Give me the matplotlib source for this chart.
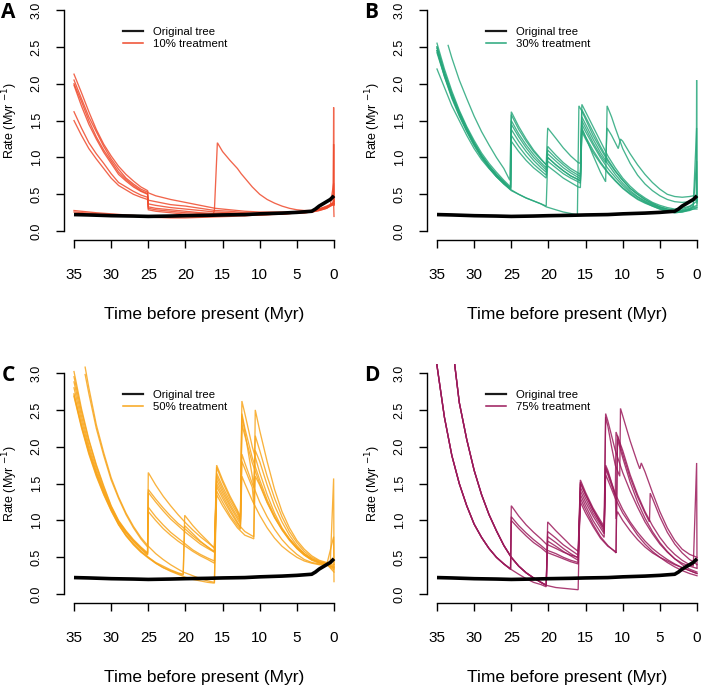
import matplotlib
matplotlib.use("Agg")
import matplotlib.pyplot as plt
from matplotlib.lines import Line2D

plt.rcParams['font.family'] = ['Liberation Sans', 'DejaVu Sans']

# original tree (same in every panel)
orig_t = [35, 33, 30, 27, 25, 22, 20, 17, 15, 12, 10, 7, 5, 3, 2.5, 2, 1.5, 1, 0.5, 0]
orig_r = [0.225, 0.22, 0.21, 0.205, 0.2, 0.205, 0.21, 0.215, 0.22, 0.225, 0.235, 0.245,
          0.255, 0.27, 0.3, 0.34, 0.37, 0.4, 0.43, 0.48]

x_ticks = [35, 30, 25, 20, 15, 10, 5, 0]
y_ticks = [0.0, 0.5, 1.0, 1.5, 2.0, 2.5, 3.0]

# ---- panel A : 10% treatment ----
a_lines = [
    [(35, 2.13), (34, 1.88), (33, 1.62), (32, 1.38), (31, 1.18), (30, 1.02), (29, 0.88), (28, 0.77),
     (27, 0.68), (26, 0.6), (25.1, 0.55), (25, 0.52), (24, 0.48), (22, 0.43), (20, 0.39), (18, 0.35),
     (16, 0.31), (14, 0.29), (12, 0.27), (10, 0.26), (8, 0.26), (6, 0.26), (4, 0.27), (3, 0.28),
     (2, 0.3), (1, 0.34), (0.5, 0.36), (0.1, 0.38), (0.05, 1.68), (0, 0.4)],
    [(35, 2.05), (34, 1.8), (33, 1.55), (32, 1.35), (31, 1.15), (30, 0.98), (29, 0.84), (28, 0.72),
     (27, 0.64), (26, 0.57), (25.1, 0.53), (25, 0.42), (24, 0.4), (22, 0.36), (20, 0.34), (18, 0.31),
     (16, 0.28), (14, 0.27), (12, 0.25), (10, 0.24), (8, 0.24), (6, 0.25), (4, 0.26), (3, 0.27),
     (2, 0.3), (1, 0.33), (0.5, 0.35), (0.1, 0.37), (0.05, 1.18), (0, 0.37)],
    [(35, 2.0), (34, 1.76), (33, 1.5), (32, 1.28), (31, 1.1), (30, 0.95), (29, 0.8), (28, 0.7),
     (27, 0.62), (26, 0.55), (25.1, 0.51), (25, 0.37), (24, 0.35), (22, 0.32), (20, 0.3), (18, 0.28),
     (16, 0.26), (14, 0.25), (12, 0.24), (10, 0.23), (8, 0.24), (6, 0.25), (4, 0.26), (3, 0.27),
     (2, 0.29), (1, 0.32), (0.5, 0.35), (0.05, 0.65), (0, 0.35)],
    [(35, 1.98), (34, 1.7), (33, 1.45), (32, 1.25), (31, 1.07), (30, 0.92), (29, 0.77), (28, 0.68),
     (27, 0.6), (26, 0.54), (25.1, 0.5), (25, 0.33), (24, 0.31), (22, 0.29), (20, 0.27), (18, 0.25),
     (16, 0.24), (14, 0.24), (12, 0.23), (10, 0.23), (8, 0.23), (6, 0.24), (4, 0.25), (3, 0.26),
     (2, 0.29), (1, 0.32), (0.5, 0.36), (0.05, 0.38), (0, 0.2)],
    [(35, 1.62), (34, 1.4), (33, 1.2), (32, 1.05), (31, 0.92), (30, 0.78), (29, 0.66), (28, 0.6),
     (27, 0.54), (26, 0.49), (25.1, 0.46), (25, 0.31), (24, 0.29), (22, 0.27), (20, 0.25), (18, 0.24),
     (16, 0.23), (14, 0.23), (12, 0.22), (10, 0.22), (8, 0.23), (6, 0.24), (4, 0.25), (3, 0.26),
     (2, 0.28), (1, 0.31), (0.5, 0.34), (0, 0.36)],
    [(35, 1.5), (34, 1.3), (33, 1.12), (32, 0.98), (31, 0.85), (30, 0.72), (29, 0.62), (28, 0.56),
     (27, 0.5), (26, 0.46), (25.1, 0.43), (25, 0.29), (24, 0.27), (22, 0.25), (20, 0.23), (18, 0.22),
     (16, 0.22), (14, 0.22), (12, 0.21), (10, 0.22), (8, 0.23), (6, 0.24), (4, 0.25), (3, 0.26),
     (2, 0.28), (1, 0.31), (0.5, 0.34), (0, 0.37)],
    [(35, 0.28), (32, 0.25), (28, 0.22), (25, 0.2), (22, 0.19), (19, 0.2), (16.3, 0.22), (16.1, 0.28),
     (15.7, 1.2), (15, 1.08), (14, 0.96), (13, 0.85), (12.5, 0.78), (12, 0.72), (11, 0.6), (10, 0.5),
     (9, 0.43), (8, 0.38), (7, 0.34), (6, 0.31), (5, 0.29), (4, 0.28), (3, 0.28), (2, 0.3), (1, 0.33),
     (0.5, 0.36), (0, 0.4)],
    [(35, 0.26), (30, 0.22), (25, 0.19), (22, 0.18), (20, 0.18), (17, 0.19), (14, 0.2), (10, 0.22),
     (7, 0.23), (5, 0.25), (3, 0.27), (2, 0.29), (1, 0.32), (0.5, 0.35), (0, 0.38)],
]

# ---- panel B : 30% treatment ----
b_lines = [
    [(35, 2.55), (34, 2.2), (33, 1.9), (32, 1.64), (31, 1.42), (30, 1.23), (29, 1.06), (28, 0.92),
     (27, 0.8), (26, 0.69), (25.1, 0.6), (25, 1.62), (24, 1.42), (23, 1.25), (22, 1.1), (21, 0.98),
     (20.3, 0.9), (20.1, 1.4), (19, 1.26), (18, 1.13), (17, 1.02), (16, 0.93), (15.7, 0.92),
     (15.5, 1.72), (15, 1.62), (14, 1.42), (13, 1.22), (12, 1.02), (11, 0.86), (10, 0.72), (9, 0.61),
     (8, 0.52), (7, 0.45), (6, 0.39), (5, 0.35), (4, 0.32), (3, 0.3), (2, 0.31), (1, 0.34),
     (0.5, 0.37), (0.1, 0.4), (0.05, 2.05), (0, 0.4)],
    [(35, 2.5), (34, 2.16), (33, 1.87), (32, 1.62), (31, 1.4), (30, 1.2), (29, 1.03), (28, 0.89),
     (27, 0.77), (26, 0.67), (25.1, 0.58), (25, 1.5), (24, 1.32), (23, 1.17), (22, 1.04), (21, 0.93),
     (20.3, 0.86), (20.1, 1.15), (19, 1.03), (18, 0.93), (17, 0.85), (16, 0.79), (15.7, 0.77),
     (15.5, 1.65), (15, 1.55), (14, 1.35), (13, 1.15), (12, 0.97), (11, 0.82), (10, 0.69), (9, 0.58),
     (8, 0.5), (7, 0.43), (6, 0.37), (5, 0.33), (4, 0.3), (3, 0.28), (2, 0.29), (1, 0.33),
     (0.5, 0.36), (0.05, 1.4), (0, 0.38)],
    [(35, 2.45), (34, 2.12), (33, 1.84), (32, 1.6), (31, 1.38), (30, 1.19), (29, 1.02), (28, 0.88),
     (27, 0.76), (26, 0.66), (25.1, 0.57), (25, 1.45), (24, 1.28), (23, 1.13), (22, 1.0), (21, 0.9),
     (20.3, 0.83), (20.1, 1.1), (19, 0.99), (18, 0.9), (17, 0.82), (16, 0.76), (15.7, 0.74),
     (15.5, 1.55), (15, 1.45), (14, 1.25), (13, 1.07), (12, 0.91), (11, 0.77), (10, 0.65), (9, 0.55),
     (8, 0.47), (7, 0.41), (6, 0.36), (5, 0.32), (4, 0.29), (3, 0.27), (2, 0.28), (1, 0.31),
     (0.5, 0.34), (0.05, 0.95), (0, 0.36)],
    [(35, 2.48), (34, 2.14), (33, 1.85), (32, 1.6), (31, 1.39), (30, 1.2), (29, 1.03), (28, 0.89),
     (27, 0.77), (26, 0.67), (25.1, 0.58), (25, 1.38), (24, 1.22), (23, 1.08), (22, 0.96), (21, 0.86),
     (20.3, 0.8), (20.1, 1.05), (19, 0.95), (18, 0.86), (17, 0.79), (16, 0.73), (15.7, 0.71),
     (15.5, 1.5), (15, 1.4), (14, 1.2), (13, 1.03), (12.3, 0.93), (12.1, 1.4), (11.5, 1.3), (11, 1.2),
     (10.6, 1.12), (10.3, 1.25), (10, 1.22), (9, 1.05), (8, 0.9), (7, 0.77), (6, 0.66), (5, 0.57),
     (4, 0.5), (3, 0.47), (2, 0.46), (1, 0.47), (0.5, 0.48), (0, 0.45)],
    [(35, 2.42), (34, 2.1), (33, 1.82), (32, 1.58), (31, 1.37), (30, 1.18), (29, 1.02), (28, 0.88),
     (27, 0.76), (26, 0.66), (25.1, 0.57), (25, 1.3), (24, 1.15), (23, 1.02), (22, 0.91), (21, 0.82),
     (20.3, 0.76), (20.1, 1.0), (19, 0.9), (18, 0.82), (17, 0.75), (16, 0.7), (15.7, 0.68),
     (15.5, 1.4), (15, 1.28), (14, 1.03), (13, 0.8), (12.3, 0.67), (12.1, 1.7), (11.5, 1.55),
     (11, 1.4), (10, 1.12), (9, 0.92), (8, 0.76), (7, 0.64), (6, 0.55), (5, 0.48), (4, 0.43),
     (3, 0.4), (2, 0.39), (1, 0.4), (0.5, 0.42), (0, 0.42)],
    [(35, 2.2), (34, 1.95), (33, 1.7), (32, 1.5), (31, 1.3), (30, 1.12), (29, 0.97), (28, 0.85),
     (27, 0.74), (26, 0.65), (25.1, 0.57), (25, 1.22), (24, 1.08), (23, 0.96), (22, 0.86), (21, 0.78),
     (20.3, 0.72), (20.1, 1.0), (19, 0.9), (18, 0.82), (17, 0.75), (16, 0.7), (15.7, 0.68),
     (15.5, 1.45), (15, 1.35), (14, 1.17), (13, 1.0), (12, 0.85), (11, 0.73), (10, 0.62), (9, 0.53),
     (8, 0.46), (7, 0.4), (6, 0.35), (5, 0.31), (4, 0.28), (3, 0.26), (2, 0.27), (1, 0.3),
     (0.5, 0.33), (0, 0.35)],
    [(35, 2.45), (34, 2.1), (33, 1.8), (32, 1.56), (31, 1.35), (30, 1.16), (29, 1.0), (28, 0.86),
     (27, 0.74), (26, 0.64), (25, 0.56), (24, 0.5), (23, 0.45), (22, 0.41), (21, 0.37), (20.3, 0.34),
     (20.1, 0.95), (19, 0.86), (18, 0.78), (17, 0.72), (16, 0.67), (15.7, 0.65), (15.5, 1.38),
     (15, 1.28), (14, 1.1), (13, 0.94), (12, 0.8), (11, 0.69), (10, 0.59), (9, 0.51), (8, 0.44),
     (7, 0.39), (6, 0.34), (5, 0.3), (4, 0.27), (3, 0.25), (2, 0.26), (1, 0.29), (0.5, 0.32),
     (0, 0.33)],
    [(35, 2.5), (34, 2.14), (33, 1.83), (32, 1.58), (31, 1.36), (30, 1.17), (29, 1.0), (28, 0.86),
     (27, 0.74), (26, 0.64), (25, 0.55), (24, 0.5), (23, 0.45), (22, 0.41), (21, 0.37), (20.3, 0.33),
     (19, 0.29), (18, 0.26), (17, 0.24), (16.1, 0.22), (15.9, 1.7), (15.5, 1.63), (15, 1.52),
     (14, 1.3), (13, 1.12), (12, 0.95), (11, 0.81), (10, 0.69), (9, 0.58), (8, 0.5), (7, 0.43),
     (6, 0.38), (5, 0.33), (4, 0.3), (3, 0.28), (2, 0.27), (1, 0.29), (0.5, 0.3), (0, 0.32)],
    [(33.5, 2.52), (33, 2.35), (32, 2.05), (31, 1.8), (30, 1.56), (29, 1.35), (28, 1.17), (27, 1.0),
     (26, 0.85), (25.2, 0.69), (25, 1.58), (24, 1.38), (23, 1.22), (22, 1.08), (21, 0.97),
     (20.3, 0.9), (19, 0.8), (18, 0.72), (17, 0.66), (16, 0.6), (15.7, 0.59), (15.5, 1.35),
     (15, 1.25), (14, 1.07), (13, 0.92), (12, 0.79), (11, 0.68), (10, 0.58), (9, 0.5), (8, 0.43),
     (7, 0.38), (6, 0.34), (5, 0.3), (4, 0.27), (3, 0.25), (2, 0.26), (1, 0.28), (0.5, 0.3),
     (0, 0.3)],
]

# ---- panel C : 50% treatment ----
c_lines = [
    [(35, 3.02), (34, 2.52), (33, 2.1), (32, 1.76), (31, 1.47), (30, 1.2), (29, 1.0), (28, 0.86),
     (27, 0.74), (26, 0.64), (25.1, 0.56), (25, 1.65), (24, 1.48), (23, 1.33), (22, 1.2), (21, 1.08),
     (20, 0.97), (19, 0.87), (18, 0.78), (17, 0.7), (16.1, 0.63), (15.8, 1.75), (15, 1.55),
     (14, 1.33), (13, 1.14), (12.6, 1.05), (12.4, 2.62), (12, 2.45), (11, 2.0), (10, 1.65),
     (9, 1.35), (8, 1.1), (7, 0.9), (6, 0.75), (5, 0.63), (4, 0.54), (3, 0.47), (2, 0.43), (1, 0.41),
     (0.5, 0.4), (0, 0.38)],
    [(35, 2.95), (34, 2.48), (33, 2.08), (32, 1.74), (31, 1.45), (30, 1.19), (29, 0.99), (28, 0.85),
     (27, 0.73), (26, 0.63), (25.1, 0.55), (25, 1.42), (24, 1.29), (23, 1.17), (22, 1.06), (21, 0.96),
     (20, 0.88), (19, 0.79), (18, 0.71), (17, 0.64), (16.1, 0.58), (15.8, 1.64), (15, 1.46),
     (14, 1.26), (13, 1.09), (12.6, 1.0), (12.4, 2.42), (12, 2.2), (11.5, 1.9), (11, 1.6),
     (10.8, 1.45), (10.6, 2.15), (10, 1.95), (9, 1.6), (8, 1.3), (7, 1.05), (6, 0.85), (5, 0.7),
     (4, 0.58), (3, 0.5), (2, 0.45), (1, 0.42), (0.5, 0.42), (0.05, 1.57), (0, 0.4)],
    [(35, 2.88), (34, 2.42), (33, 2.02), (32, 1.7), (31, 1.42), (30, 1.17), (29, 0.98), (28, 0.84),
     (27, 0.72), (26, 0.62), (25.1, 0.54), (25, 1.18), (24, 1.05), (23, 0.94), (22, 0.84), (21, 0.76),
     (20, 0.68), (19, 0.6), (18, 0.54), (17, 0.49), (16.1, 0.45), (15.8, 1.46), (15, 1.3), (14, 1.12),
     (13, 0.96), (12, 0.85), (11, 0.79), (10.8, 0.78), (10.6, 1.6), (10, 1.48), (9, 1.24), (8, 1.04),
     (7, 0.88), (6, 0.75), (5, 0.64), (4, 0.55), (3, 0.48), (2, 0.44), (1, 0.41), (0, 0.35)],
    [(35, 2.8), (34, 2.36), (33, 1.98), (32, 1.66), (31, 1.4), (30, 1.16), (29, 0.97), (28, 0.83),
     (27, 0.71), (26, 0.61), (25.1, 0.53), (25, 1.12), (24, 1.0), (23, 0.89), (22, 0.8), (21, 0.72),
     (20, 0.65), (19, 0.58), (18, 0.52), (17, 0.47), (16.1, 0.42), (15.8, 1.4), (15, 1.25),
     (14, 1.07), (13, 0.93), (12.6, 0.88), (12.4, 1.8), (12, 1.7), (11, 1.45), (10.8, 1.22),
     (10.6, 1.95), (10, 1.8), (9, 1.48), (8, 1.2), (7, 0.98), (6, 0.8), (5, 0.66), (4, 0.55),
     (3, 0.48), (2, 0.43), (1, 0.4), (0, 0.33)],
    [(35, 2.72), (34, 2.3), (33, 1.94), (32, 1.64), (31, 1.38), (30, 1.15), (29, 0.95), (28, 0.8),
     (27, 0.68), (26, 0.58), (25, 0.5), (24, 0.43), (23, 0.38), (22, 0.33), (21, 0.29), (20.3, 0.27),
     (20.1, 1.07), (19, 0.93), (18, 0.82), (17, 0.72), (16.1, 0.62), (15.8, 1.55), (15, 1.38),
     (14, 1.19), (13, 1.02), (12.6, 0.95), (12.4, 2.3), (12, 2.15), (11, 1.78), (10, 1.5), (9, 1.25),
     (8, 1.04), (7, 0.87), (6, 0.73), (5, 0.62), (4, 0.53), (3, 0.46), (2, 0.42), (1, 0.4),
     (0, 0.36)],
    [(35, 2.68), (34, 2.26), (33, 1.9), (32, 1.6), (31, 1.35), (30, 1.13), (29, 0.94), (28, 0.79),
     (27, 0.67), (26, 0.57), (25, 0.49), (24, 0.42), (23, 0.36), (22, 0.32), (21, 0.28), (20.3, 0.26),
     (20.1, 0.93), (19, 0.82), (18, 0.72), (17, 0.64), (16.1, 0.57), (15.8, 1.5), (15, 1.34),
     (14, 1.15), (13, 0.98), (12.6, 0.9), (12.4, 1.6), (12, 1.5), (11, 1.27), (10, 1.07), (9, 0.9),
     (8, 0.76), (7, 0.65), (6, 0.57), (5, 0.5), (4, 0.45), (3, 0.42), (2, 0.4), (1, 0.39),
     (0.05, 0.78), (0, 0.17)],
    [(35, 2.7), (34, 2.28), (33, 1.92), (32, 1.62), (31, 1.36), (30, 1.14), (29, 0.95), (28, 0.8),
     (27, 0.68), (26, 0.58), (25, 0.5), (24, 0.42), (23, 0.36), (22, 0.31), (21, 0.27), (20, 0.23),
     (19, 0.2), (18, 0.18), (17, 0.16), (16.1, 0.15), (15.8, 1.72), (15, 1.52), (14, 1.3), (13, 1.12),
     (12.6, 1.02), (12.4, 1.9), (12, 1.78), (11, 1.5), (10, 1.25), (9, 1.05), (8, 0.88), (7, 0.74),
     (6, 0.63), (5, 0.54), (4, 0.47), (3, 0.43), (2, 0.41), (1, 0.4), (0, 0.37)],
    [(33.5, 3.08), (33, 2.8), (32, 2.3), (31, 1.92), (30, 1.58), (29, 1.32), (28, 1.1), (27, 0.92),
     (26, 0.77), (25, 0.65), (24, 0.55), (23, 0.47), (22, 0.4), (21, 0.34), (20.3, 0.3), (19, 0.25),
     (18, 0.21), (17, 0.18), (16.1, 0.16), (15.8, 1.35), (15, 1.2), (14, 1.04), (13, 0.9), (12, 0.8),
     (11, 0.76), (10.8, 0.75), (10.6, 2.5), (10, 2.22), (9, 1.8), (8, 1.42), (7, 1.12), (6, 0.9),
     (5, 0.73), (4, 0.61), (3, 0.52), (2, 0.46), (1, 0.43), (0, 0.4)],
    [(33.5, 2.98), (33, 2.72), (32, 2.25), (31, 1.88), (30, 1.55), (29, 1.3), (28, 1.08), (27, 0.9),
     (26, 0.75), (25.1, 0.64), (25, 1.38), (24, 1.25), (23, 1.13), (22, 1.02), (21, 0.93), (20, 0.84),
     (19, 0.76), (18, 0.68), (17, 0.62), (16.1, 0.57), (15.8, 1.6), (15, 1.42), (14, 1.22),
     (13, 1.05), (12.6, 0.98), (12.4, 2.45), (12, 2.25), (11, 1.85), (10, 1.55), (9, 1.28),
     (8, 1.06), (7, 0.88), (6, 0.74), (5, 0.62), (4, 0.53), (3, 0.47), (2, 0.43), (1, 0.41),
     (0, 0.3)],
]

# ---- panel D : 75% treatment ----
d_start_early = [(35.2, 3.4), (35, 3.1), (34, 2.4), (33, 1.88), (32, 1.5), (31, 1.2), (30, 0.95),
                 (29, 0.77), (28, 0.62), (27, 0.5), (26, 0.41), (25.1, 0.34)]
d_tail_early = [(24, 0.27), (23, 0.21), (22, 0.16), (21, 0.13), (20.3, 0.1)]
d_start_late = [(33, 3.6), (32.6, 3.1), (32, 2.6), (31, 2.1), (30, 1.68), (29, 1.35), (28, 1.08),
                (27, 0.86), (26, 0.66), (25, 0.5), (24, 0.38), (23, 0.29), (22, 0.22), (21, 0.16),
                (20.3, 0.12)]

d_lines = [
    d_start_early + [(25, 1.2), (24, 1.06), (23, 0.94), (22, 0.84), (21, 0.75), (20.3, 0.68),
                     (19, 0.62), (18, 0.57), (17, 0.53), (16, 0.5), (15.7, 1.5), (15, 1.35), (14, 1.15),
                     (13, 0.97), (12.5, 0.88), (12.3, 2.45), (12, 2.35), (11, 1.95), (10, 1.65),
                     (9, 1.4), (8, 1.18), (7, 0.98), (6, 0.82), (5, 0.68), (4, 0.57), (3, 0.48),
                     (2, 0.42), (1, 0.38), (0, 0.35)],
    d_start_early + [(25, 1.05), (24, 0.93), (23, 0.83), (22, 0.74), (21, 0.66), (20.3, 0.6),
                     (19, 0.55), (18, 0.5), (17, 0.46), (16, 0.43), (15.7, 1.45), (15, 1.3), (14, 1.1),
                     (13, 0.94), (12.5, 0.85), (12.3, 2.4), (12, 2.28), (11.5, 2.0), (11, 1.75),
                     (10.4, 1.6), (10.3, 2.52), (10, 2.42), (9, 2.08), (8, 1.78), (7.7, 1.7),
                     (7.5, 1.78), (7, 1.66), (6, 1.38), (5, 1.12), (4, 0.9), (3, 0.73), (2, 0.61),
                     (1, 0.54), (0.5, 0.52), (0, 0.5)],
    d_start_early + [(25, 1.0), (24, 0.89), (23, 0.79), (22, 0.7), (21, 0.63), (20.3, 0.57),
                     (19, 0.52), (18, 0.48), (17, 0.44), (16, 0.41), (15.7, 1.4), (15, 1.25),
                     (14, 1.06), (13, 0.9), (12.5, 0.82), (12.3, 1.75), (12, 1.68), (11, 1.35),
                     (10.9, 1.02), (10.7, 1.12), (10, 1.0), (9, 0.86), (8, 0.74), (7, 0.64), (6, 0.56),
                     (5, 0.5), (4, 0.45), (3, 0.4), (2, 0.36), (1, 0.32), (0, 0.28)],
    d_start_early + d_tail_early + [(20.1, 0.98), (19, 0.86), (18, 0.76), (17, 0.66), (16, 0.58),
                     (15.7, 1.55), (15, 1.38), (14, 1.17), (13, 1.0), (12.5, 0.92), (12.3, 1.7),
                     (12, 1.62), (11, 1.33), (10.9, 2.2), (10, 1.95), (9, 1.62), (8, 1.35), (7, 1.12),
                     (6, 0.93), (5, 0.77), (4, 0.64), (3, 0.54), (2, 0.46), (1, 0.4), (0.5, 0.38),
                     (0.05, 1.78), (0, 0.36)],
    d_start_late + [(20.1, 0.85), (19, 0.76), (18, 0.67), (17, 0.6), (16, 0.53), (15.7, 1.35),
                    (15, 1.2), (14, 1.0), (13, 0.84), (12.5, 0.77), (12.3, 1.62), (12, 1.55),
                    (11, 1.3), (10, 1.1), (9, 0.95), (8, 0.8), (7, 0.68), (6, 0.58), (5, 0.5),
                    (4, 0.43), (3, 0.37), (2, 0.32), (1, 0.28), (0, 0.25)],
    d_start_late + [(20.1, 0.78), (19, 0.7), (18, 0.62), (17, 0.55), (16, 0.49), (15.7, 1.3),
                    (15, 1.15), (14, 0.95), (13, 0.78), (12, 0.66), (11, 0.57), (10.9, 0.56),
                    (10.7, 2.15), (10, 1.9), (9, 1.58), (8, 1.32), (7, 1.1), (6.4, 0.98), (6.3, 1.37),
                    (6, 1.3), (5, 1.05), (4, 0.84), (3, 0.68), (2, 0.56), (1, 0.47), (0.5, 0.44),
                    (0, 0.4)],
    d_start_late + [(20.1, 0.72), (19, 0.65), (18, 0.58), (17, 0.52), (16, 0.46), (15.7, 1.25),
                    (15, 1.1), (14, 0.92), (13, 0.76), (12, 0.65), (11, 0.58), (10.9, 0.56),
                    (10.7, 2.1), (10, 1.85), (9, 1.52), (8, 1.25), (7, 1.03), (6, 0.85), (5, 0.7),
                    (4, 0.58), (3, 0.48), (2, 0.4), (1, 0.34), (0, 0.3)],
    d_start_late + [(19, 0.09), (18, 0.08), (17, 0.07), (16, 0.06), (15.7, 1.52), (15, 1.35),
                    (14, 1.14), (13, 0.97), (12.5, 0.9), (12.3, 1.72), (12, 1.65), (11, 1.36),
                    (10, 1.15), (9, 0.98), (8, 0.84), (7, 0.72), (6, 0.62), (5, 0.54), (4, 0.47),
                    (3, 0.41), (2, 0.36), (1, 0.32), (0, 0.28)],
]

panels = [
    ('A', a_lines, '#EF4A2C', '10% treatment'),
    ('B', b_lines, '#27A77B', '30% treatment'),
    ('C', c_lines, '#F8A51B', '50% treatment'),
    ('D', d_lines, '#9B1A5B', '75% treatment'),
]

W, H = 709, 686
fig = plt.figure(figsize=(W / 100, H / 100), dpi=100)

corners = [(63.6, 1.2), (426.6, 1.2), (63.6, 364.2), (426.6, 364.2)]
aw, ah = 280.8, 238.8

for (letter, lines, col, lab), (lx, ty) in zip(panels, corners):
    ax = fig.add_axes([lx / W, 1 - (ty + ah) / H, aw / W, ah / H])
    for ln in lines:
        t = [p[0] for p in ln]
        r = [p[1] for p in ln]
        ax.plot(t, r, color=col, lw=0.95, alpha=0.85, solid_joinstyle='miter')
    ax.plot(orig_t, orig_r, color='black', lw=2.6, solid_capstyle='butt')

    ax.set_xlim(36.4, -1.4)
    ax.set_ylim(-0.12, 3.12)
    ax.set_xticks(x_ticks)
    ax.set_yticks(y_ticks)
    ax.set_yticklabels(['%.1f' % v for v in y_ticks], rotation=90, va='center')
    for s in ['top', 'right']:
        ax.spines[s].set_visible(False)
    ax.spines['left'].set_bounds(0, 3)
    ax.spines['bottom'].set_bounds(0, 35)
    ax.spines['left'].set_linewidth(1.0)
    ax.spines['bottom'].set_linewidth(1.0)
    ax.tick_params(axis='x', length=6, width=1.0, labelsize=11, pad=14)
    ax.tick_params(axis='y', length=6, width=1.0, labelsize=9, pad=9)

    ax.set_xlabel('Time before present (Myr)', fontsize=12.5)
    ax.xaxis.set_label_coords(0.5, -0.28)
    ax.set_ylabel('Rate (Myr $^{-1}$)', fontsize=9)
    ax.yaxis.set_label_coords(-0.155, 0.5)

    handles = [Line2D([], [], color='#1a1a1a', lw=1.6),
               Line2D([], [], color=col, lw=1.1)]
    ax.legend(handles, ['Original tree', lab], loc='upper left', bbox_to_anchor=(0.195, 0.91),
              frameon=False, fontsize=8.2, handlelength=1.75, handletextpad=0.85,
              labelspacing=0.12, borderaxespad=0)

    fig.text((lx - 55) / W, 1 - (ty + 11) / H, letter, fontsize=15, fontweight='bold',
             family=['Open Sans', 'DejaVu Sans'], ha='center', va='center')

fig.savefig('out.png', dpi=100)
plt.close(fig)
